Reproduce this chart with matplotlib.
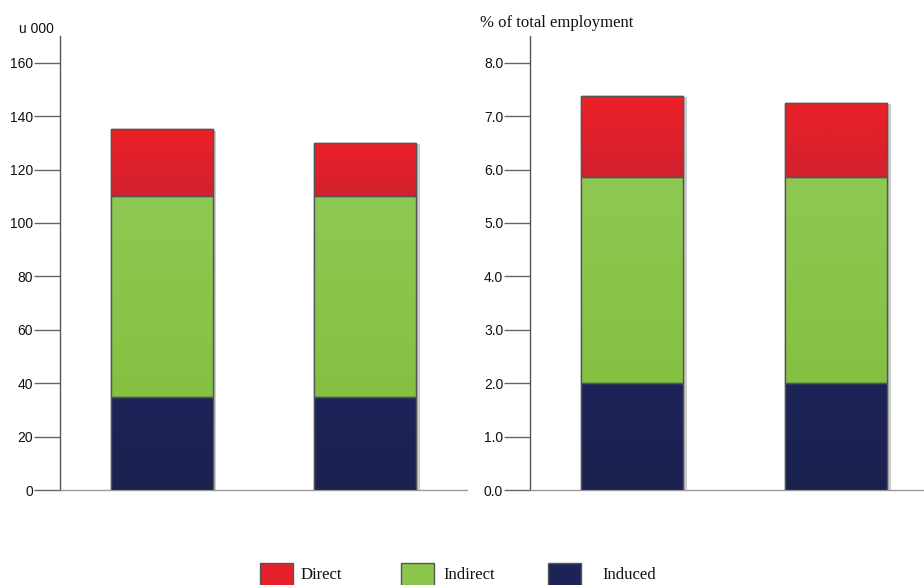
import numpy as np
import matplotlib.pyplot as plt
from matplotlib import patheffects
from matplotlib.colors import LinearSegmentedColormap
from matplotlib.patches import Rectangle

# values
bars = [0, 1]
induced_abs = [35, 35]
indirect_abs = [75, 75]
direct_abs = [25, 20]

induced_pct = [2.0, 2.0]
indirect_pct = [3.86, 3.86]
direct_pct = [1.52, 1.39]

series = ["Direct", "Indirect", "Induced"]
colors = {"Direct": "#e5202a", "Indirect": "#8bc64c", "Induced": "#1c2356"}
# top -> bottom shades for the soft vertical gradient
grad = {"Direct": ("#ec2027", "#d2202e"), "Indirect": ("#8ec953", "#84c141"), "Induced": ("#1d2459", "#1b214f")}

plt.rcParams['font.family'] = ['Liberation Sans', 'DejaVu Sans']

fig = plt.figure(figsize=(9.24, 5.85), dpi=100)
ax1 = fig.add_axes([60/924, 1 - 490/585, 407/924, 454/585])
ax2 = fig.add_axes([530/924, 1 - 490/585, 394/924, 454/585])

shadow = [patheffects.SimplePatchShadow(offset=(2.5, -1), shadow_rgbFace='#b8b8b8', alpha=0.7),
          patheffects.Normal()]


def stack(ax, induced, indirect, direct):
    bottom = np.zeros(len(bars))
    for name, vals in [("Induced", induced), ("Indirect", indirect), ("Direct", direct)]:
        bc = ax.bar(bars, vals, width=0.5, bottom=bottom, color=colors[name],
                    edgecolor='#555555', linewidth=1.0, zorder=3)
        cmap = LinearSegmentedColormap.from_list(name, [grad[name][1], grad[name][0]])
        for p in bc:
            p.set_path_effects(shadow)
            x0, y0, w, h = p.get_x(), p.get_y(), p.get_width(), p.get_height()
            im = ax.imshow(np.linspace(0, 1, 64).reshape(-1, 1), cmap=cmap, origin='lower',
                           extent=[x0, x0 + w, y0, y0 + h], aspect='auto', zorder=3.5)
            im.set_clip_path(p)
            ax.bar(x0 + w / 2, h, width=w, bottom=y0, facecolor='none',
                   edgecolor='#555555', linewidth=1.0, zorder=4)
        bottom = bottom + np.array(vals)


stack(ax1, induced_abs, indirect_abs, direct_abs)
stack(ax2, induced_pct, indirect_pct, direct_pct)

ax1.set_xlim(-0.5, 1.5)
ax1.set_ylim(0, 170)
ax1.set_yticks(np.arange(0, 161, 20))

ax2.set_xlim(-0.5, 1.431)
ax2.set_ylim(0, 8.5)
ax2.set_yticks(np.arange(0, 8.1, 1.0))
ax2.set_yticklabels([f"{v:.1f}" for v in np.arange(0, 8.1, 1.0)])

for ax in (ax1, ax2):
    for s in ("top", "right"):
        ax.spines[s].set_visible(False)
    ax.spines["left"].set_color('#555555')
    ax.spines["bottom"].set_color('#999999')
    ax.spines["left"].set_linewidth(1.0)
    ax.spines["bottom"].set_linewidth(1.0)
    ax.set_xticks([])
    ax.tick_params(axis='y', direction='out', length=19, width=1.0, color='#666666',
                   pad=0.3, labelsize=10, labelcolor='#111111')

fig.text(36/924, 1 - 29/585, "u 000", ha='center', va='center', fontsize=10, color='#111111')
fig.text(480/924, 1 - 23/585, "% of total employment", ha='left', va='center', fontsize=12,
         family=['Liberation Serif', 'DejaVu Serif'], color='#111111')

# legend
legend_items = [("Direct", 260, 301), ("Indirect", 401, 443), ("Induced", 548, 602)]
for name, px, tx in legend_items:
    fig.patches.append(Rectangle((px/924, 1 - 588/585), 33/924, 25/585, transform=fig.transFigure,
                                 facecolor=colors[name], edgecolor='#555555', linewidth=1.0))
    fig.text(tx/924, 1 - 575/585, name, ha='left', va='center', fontsize=12,
             family=['Liberation Serif', 'DejaVu Serif'], color='#111111')

fig.savefig("out.png", dpi=100)
